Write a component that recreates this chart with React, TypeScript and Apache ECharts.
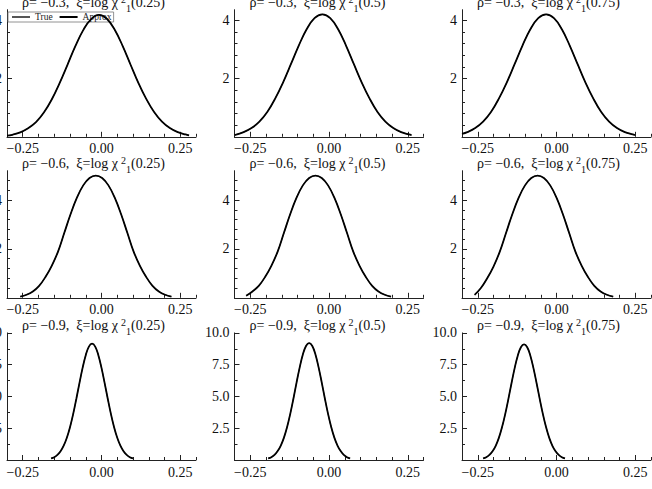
import React, { useEffect, useRef } from "react";
import * as echarts from "echarts";

// Panel labels
const rhoLabels = ["\u22120.3", "\u22120.6", "\u22120.9"];
const quantileLabels = ["0.25", "0.5", "0.75"];

// Axis ticks
const xMajorTicks = [-0.25, 0, 0.25];
const xMinorTicks = [-0.2, -0.15, -0.1, -0.05, 0.05, 0.1, 0.15, 0.2, 0.3];
const yMaxByRow = [4.36, 5.2, 10];
const yMajorTicksByRow = [
  [0, 2, 4],
  [0, 2, 4],
  [0, 2.5, 5, 7.5, 10],
];
const yMinorTicksByRow = [
  [0.4, 0.8, 1.2, 1.6, 2.4, 2.8, 3.2, 3.6],
  [0.4, 0.8, 1.2, 1.6, 2.4, 2.8, 3.2, 3.6, 4.4, 4.8],
  [1.25, 3.75, 6.25, 8.75],
];

// Density curves, rho = -0.3
const x11 = [-0.3, -0.283, -0.258, -0.233, -0.208, -0.183, -0.158, -0.133, -0.108, -0.083, -0.058, -0.033, -0.008, 0.017, 0.042, 0.067, 0.092, 0.117, 0.142, 0.167, 0.192, 0.217, 0.242, 0.267, 0.278];
const d11 = [0.04, 0.07, 0.15, 0.29, 0.5, 0.83, 1.28, 1.84, 2.47, 3.11, 3.66, 4.04, 4.18, 4.05, 3.67, 3.12, 2.48, 1.85, 1.3, 0.85, 0.52, 0.3, 0.16, 0.08, 0.05];
const x12 = [-0.3, -0.271, -0.246, -0.221, -0.196, -0.171, -0.146, -0.121, -0.096, -0.071, -0.046, -0.021, 0.004, 0.029, 0.054, 0.079, 0.104, 0.129, 0.154, 0.179, 0.204, 0.229, 0.254, 0.262];
const d12 = [0.06, 0.16, 0.3, 0.52, 0.85, 1.31, 1.86, 2.49, 3.13, 3.69, 4.07, 4.2, 4.07, 3.69, 3.13, 2.49, 1.86, 1.31, 0.85, 0.52, 0.3, 0.16, 0.08, 0.06];
const x13 = [-0.3, -0.283, -0.258, -0.233, -0.208, -0.183, -0.158, -0.133, -0.108, -0.083, -0.058, -0.033, -0.008, 0.017, 0.042, 0.067, 0.092, 0.117, 0.142, 0.167, 0.192, 0.217, 0.242, 0.249];
const d13 = [0.1, 0.16, 0.3, 0.52, 0.85, 1.31, 1.86, 2.49, 3.13, 3.69, 4.07, 4.2, 4.07, 3.69, 3.13, 2.49, 1.86, 1.31, 0.85, 0.52, 0.3, 0.16, 0.08, 0.06];

// Density curves, rho = -0.6
const x21 = [-0.258, -0.238, -0.218, -0.198, -0.178, -0.158, -0.138, -0.118, -0.098, -0.078, -0.058, -0.038, -0.018, 0.002, 0.022, 0.042, 0.062, 0.082, 0.102, 0.122, 0.142, 0.162, 0.182, 0.202, 0.222];
const d21 = [0.05, 0.125, 0.26, 0.49, 0.85, 1.31, 1.89, 2.66, 3.43, 4.1, 4.6, 4.9, 5.0, 4.9, 4.6, 4.1, 3.43, 2.66, 1.89, 1.31, 0.85, 0.49, 0.26, 0.125, 0.05];
const x22 = [-0.263, -0.243, -0.223, -0.203, -0.183, -0.163, -0.143, -0.123, -0.103, -0.083, -0.063, -0.043, -0.023, -0.003, 0.017, 0.037, 0.057, 0.077, 0.097, 0.117, 0.137, 0.157, 0.177, 0.197];
const d22 = [0.08, 0.26, 0.49, 0.85, 1.31, 1.89, 2.66, 3.43, 4.1, 4.6, 4.9, 5.0, 4.9, 4.6, 4.1, 3.43, 2.66, 1.89, 1.31, 0.85, 0.49, 0.26, 0.125, 0.05];
const x23 = [-0.26, -0.24, -0.22, -0.2, -0.18, -0.16, -0.14, -0.12, -0.1, -0.08, -0.06, -0.04, -0.02, 0.0, 0.02, 0.04, 0.06, 0.08, 0.1, 0.12, 0.14, 0.16, 0.18];
const d23 = [0.12, 0.4, 0.8, 1.28, 1.89, 2.66, 3.43, 4.1, 4.6, 4.9, 5.0, 4.9, 4.6, 4.1, 3.43, 2.66, 1.89, 1.31, 0.85, 0.49, 0.26, 0.125, 0.05];

// Density curves, rho = -0.9
const x31 = [-0.16, -0.15, -0.14, -0.13, -0.12, -0.11, -0.1, -0.09, -0.08, -0.07, -0.06, -0.05, -0.04, -0.03, -0.02, -0.01, 0.0, 0.01, 0.02, 0.03, 0.04, 0.05, 0.06, 0.07, 0.08, 0.09, 0.1];
const d31 = [0.12, 0.22, 0.4, 0.69, 1.13, 1.75, 2.58, 3.61, 4.8, 6.05, 7.25, 8.25, 8.92, 9.15, 8.92, 8.25, 7.25, 6.05, 4.8, 3.61, 2.58, 1.75, 1.13, 0.69, 0.4, 0.22, 0.12];
const x32 = [-0.193, -0.183, -0.173, -0.163, -0.153, -0.143, -0.133, -0.123, -0.113, -0.103, -0.093, -0.083, -0.073, -0.063, -0.053, -0.043, -0.033, -0.023, -0.013, -0.003, 0.007, 0.017, 0.027, 0.037, 0.047, 0.057, 0.067];
const d32 = [0.12, 0.22, 0.4, 0.7, 1.14, 1.76, 2.59, 3.63, 4.82, 6.09, 7.29, 8.3, 8.97, 9.2, 8.97, 8.3, 7.29, 6.09, 4.82, 3.63, 2.59, 1.76, 1.14, 0.7, 0.4, 0.22, 0.12];
const x33 = [-0.233, -0.223, -0.213, -0.203, -0.193, -0.183, -0.173, -0.163, -0.153, -0.143, -0.133, -0.123, -0.113, -0.103, -0.093, -0.083, -0.073, -0.063, -0.053, -0.043, -0.033, -0.023, -0.013, -0.003, 0.007, 0.017, 0.027];
const d33 = [0.12, 0.22, 0.4, 0.69, 1.12, 1.74, 2.57, 3.59, 4.77, 6.02, 7.21, 8.21, 8.87, 9.1, 8.87, 8.21, 7.21, 6.02, 4.77, 3.59, 2.57, 1.74, 1.12, 0.69, 0.4, 0.22, 0.12];

const curves = [
  [x11, d11], [x12, d12], [x13, d13],
  [x21, d21], [x22, d22], [x23, d23],
  [x31, d31], [x32, d32], [x33, d33],
];

const FONT = "'Liberation Serif', 'Times New Roman', serif";
const gridLefts = [7, 234.5, 462];
const gridTops = [9.7, 170.7, 332.9];
const GRID_W = 189;
const GRID_H = 127.1;
const AXIS_COLOR = "#222";
const TRUE_COLOR = "#555";
const APPROX_COLOR = "#000";

const fmtX = (v: number) =>
  v === 0 ? "0.00" : (v < 0 ? "\u2212" : "") + Math.abs(v).toFixed(2);

function buildOption() {
  const grid: any[] = [];
  const xAxis: any[] = [];
  const yAxis: any[] = [];
  const series: any[] = [];
  const title: any[] = [];

  for (let r = 0; r < 3; r++) {
    for (let c = 0; c < 3; c++) {
      const p = r * 3 + c;
      grid.push({
        left: gridLefts[c], top: gridTops[r], width: GRID_W, height: GRID_H,
        containLabel: false, outerBoundsMode: "none",
      });

      // major x axis
      xAxis.push({
        type: "value", gridIndex: p, min: -0.3, max: 0.3, position: "bottom",
        axisLine: { show: true, onZero: false, lineStyle: { color: AXIS_COLOR, width: 1 } },
        axisTick: { show: true, inside: true, length: 5, customValues: xMajorTicks, lineStyle: { color: AXIS_COLOR } },
        axisLabel: { show: true, customValues: xMajorTicks, formatter: fmtX, margin: 5, color: "#111", fontFamily: FONT, fontSize: 14 },
        splitLine: { show: false },
      });
      // minor x ticks
      xAxis.push({
        type: "value", gridIndex: p, min: -0.3, max: 0.3, position: "bottom",
        axisLine: { show: false, onZero: false },
        axisTick: { show: true, inside: true, length: 3, customValues: xMinorTicks, lineStyle: { color: AXIS_COLOR } },
        axisLabel: { show: false },
        splitLine: { show: false },
      });

      const yMax = yMaxByRow[r];
      const majors = yMajorTicksByRow[r];
      yAxis.push({
        type: "value", gridIndex: p, min: 0, max: yMax, position: "left",
        axisLine: { show: true, onZero: false, lineStyle: { color: AXIS_COLOR, width: 1 } },
        axisTick: { show: true, inside: true, length: 5, customValues: majors, lineStyle: { color: AXIS_COLOR } },
        axisLabel: {
          show: true, customValues: majors.filter((v) => v > 0),
          formatter: (v: number) => (r === 2 ? v.toFixed(1) : String(v)),
          margin: 5, color: "#111", fontFamily: FONT, fontSize: 14,
        },
        splitLine: { show: false },
      });
      // minor y ticks
      yAxis.push({
        type: "value", gridIndex: p, min: 0, max: yMax, position: "left",
        axisLine: { show: false, onZero: false },
        axisTick: { show: true, inside: true, length: 3, customValues: yMinorTicksByRow[r], lineStyle: { color: AXIS_COLOR } },
        axisLabel: { show: false },
        splitLine: { show: false },
      });

      const [xs, ds] = curves[p];
      const pts = xs.map((x, i) => [x, ds[i]]);
      series.push({
        name: "True", type: "line", xAxisIndex: 2 * p, yAxisIndex: 2 * p,
        data: pts, symbol: "none", smooth: 0.4, color: TRUE_COLOR,
        lineStyle: { color: TRUE_COLOR, width: 1 }, z: 2,
      });
      series.push({
        name: "Approx", type: "line", xAxisIndex: 2 * p, yAxisIndex: 2 * p,
        data: pts, symbol: "none", smooth: 0.4, color: APPROX_COLOR,
        lineStyle: { color: APPROX_COLOR, width: 1.8 }, z: 3,
      });

      title.push({
        left: gridLefts[c] + 15,
        top: gridTops[r] - 18.5,
        padding: 0,
        text: `{n|\u03c1= ${rhoLabels[r]},  \u03be=log \u03c7}{sup|2}{sub|1}{n|(${quantileLabels[c]})}`,
        textStyle: {
          fontFamily: FONT,
          fontWeight: "normal",
          rich: {
            n: { fontFamily: FONT, fontSize: 14, color: "#111" },
            sup: { fontFamily: FONT, fontSize: 10, color: "#111", padding: [0, 0, 5, 3] },
            sub: { fontFamily: FONT, fontSize: 10, color: "#111", padding: [12, 0, 0, 0] },
          },
        },
      });
    }
  }

  return {
    animation: false,
    backgroundColor: "#fff",
    title,
    legend: {
      data: ["True", "Approx"],
      left: 8, top: 12, orient: "horizontal",
      padding: [0, 2, 0, 3], itemGap: 6, itemWidth: 18, itemHeight: 8,
      // line-only legend keys: hide the marker that line series add to the key
      itemStyle: { opacity: 0 },
      textStyle: { fontFamily: FONT, fontSize: 9.5, color: "#222", lineHeight: 10 },
      borderColor: "#777", borderWidth: 0.8, backgroundColor: "#fff",
      selectedMode: false, z: 1,
    },
    grid, xAxis, yAxis, series,
  };
}

export default function App() {
  const ref = useRef<HTMLDivElement>(null);
  useEffect(() => {
    if (!ref.current) return;
    const chart = echarts.init(ref.current, undefined, { renderer: "svg" });
    chart.setOption(buildOption() as any);
    return () => chart.dispose();
  }, []);
  return (
    <div
      ref={ref}
      style={{ position: "fixed", left: 0, top: 0, width: 652, height: 489, background: "#fff" }}
    />
  );
}
